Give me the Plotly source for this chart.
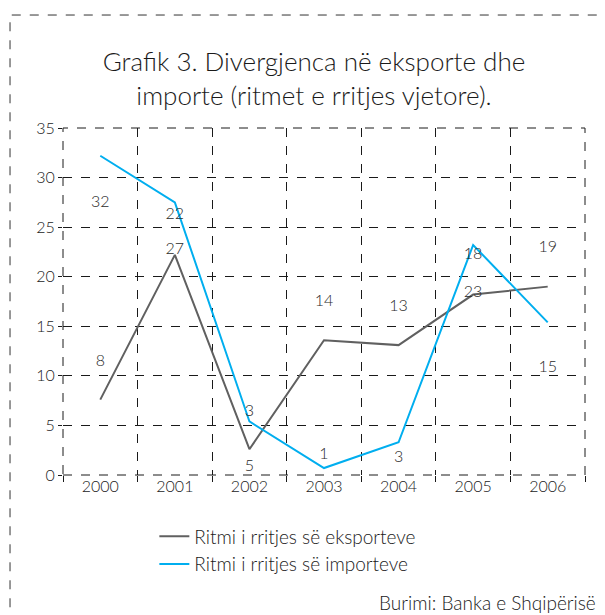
import plotly.graph_objects as go

years = ["2000", "2001", "2002", "2003", "2004", "2005", "2006"]
exports = [7.6, 22.2, 2.6, 13.6, 13.1, 18.2, 19.0]
imports = [32.2, 27.5, 5.4, 0.7, 3.3, 23.2, 15.4]

# value labels as printed in the original (placed where they appear)
export_labels = ["8", "27", "5", "14", "13", "23", "19"]
export_label_y = [11.4, 22.7, 0.8, 17.4, 16.9, 18.4, 22.9]
import_labels = ["32", "22", "3", "1", "3", "18", "15"]
import_label_y = [27.4, 26.2, 6.4, 2.0, 1.75, 22.2, 10.8]

FONT = "Lato"
GREY = "#606060"
CYAN = "#00AEEF"
INK = "#1a1a1a"

fig = go.Figure()
fig.add_trace(go.Scatter(x=years, y=exports, mode="lines",
                         name="Ritmi i rritjes së eksporteve",
                         line=dict(color=GREY, width=2)))
fig.add_trace(go.Scatter(x=years, y=imports, mode="lines",
                         name="Ritmi i rritjes së importeve",
                         line=dict(color=CYAN, width=2)))

# the printed numbers
fig.add_trace(go.Scatter(x=years + years, y=export_label_y + import_label_y,
                         mode="text", text=export_labels + import_labels,
                         textfont=dict(family=FONT, size=16, color="#2a2a2a", weight=300),
                         showlegend=False, hoverinfo="skip"))

# dashed edge of the plot area
fig.add_shape(type="rect", xref="paper", yref="paper", x0=0, x1=1, y0=0, y1=1,
              line=dict(color=INK, width=1, dash="dash"))

# dashed frame around the whole graphic
fig.add_shape(type="rect", xref="paper", yref="paper",
              x0=-0.1015, x1=1.06, y0=-0.45, y1=1.3256,
              line=dict(color="#333333", width=1, dash="dash"))

fig.add_annotation(xref="paper", yref="paper", x=1.024, y=-0.366,
                   xanchor="right", yanchor="middle", showarrow=False,
                   text="Burimi: Banka e Shqipërisë",
                   font=dict(family=FONT, size=19, color=INK, weight=300))

# page body has an 8px margin, so the figure is a bit smaller and shifted
fig.update_layout(
    width=597, height=607,
    margin=dict(l=55, r=20, t=120, b=140),
    paper_bgcolor="white", plot_bgcolor="white",
    font=dict(family=FONT, color=INK, weight=300),
    title=dict(text="Grafik 3. Divergjenca në eksporte dhe<br>importe (ritmet e rritjes vjetore).",
               x=0.5126, xanchor="center", y=0.8965, yanchor="middle",
               font=dict(family=FONT, size=26, color=INK, weight=300)),
    xaxis=dict(type="category", range=[-0.5, 6.5], tickson="boundaries",
               showgrid=True, gridcolor=INK, griddash="dash", gridwidth=1,
               ticks="outside", ticklen=6, tickcolor=INK,
               tickfont=dict(family=FONT, size=16, color=INK, weight=300),
               showline=False, zeroline=False),
    yaxis=dict(range=[0, 35], dtick=5,
               showgrid=True, gridcolor=INK, griddash="dash", gridwidth=1,
               ticks="outside", ticklen=4, tickcolor=INK,
               tickfont=dict(family=FONT, size=16, color=INK, weight=300),
               showline=False, zeroline=False),
    legend=dict(x=0.175, y=-0.122, xanchor="left", yanchor="top",
                font=dict(family=FONT, size=19, color=INK, weight=300),
                itemwidth=30, tracegroupgap=0),
    showlegend=True,
)

fig.write_html("out.html")
